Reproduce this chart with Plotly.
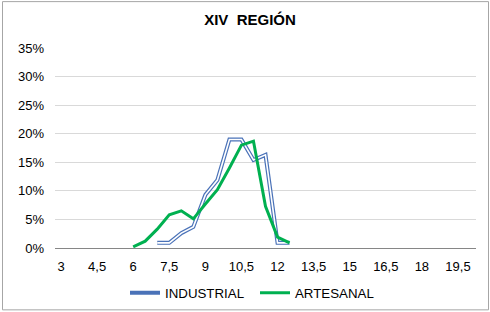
import plotly.graph_objects as go

categories = ["3", "3,5", "4", "4,5", "5", "5,5", "6", "6,5", "7", "7,5", "8", "8,5",
              "9", "9,5", "10", "10,5", "11", "11,5", "12", "12,5", "13", "13,5",
              "14", "14,5", "15", "15,5", "16", "16,5", "17", "17,5", "18", "18,5",
              "19", "19,5", "20"]

industrial = [None, None, None, None, None, None, None, None, 0.009, 0.009, 0.026, 0.037,
              0.093, 0.119, 0.190, 0.190, 0.154, 0.163, 0.009, 0.009, None, None,
              None, None, None, None, None, None, None, None, None, None,
              None, None, None]

artesanal = [None, None, None, None, None, None, 0.002, 0.012, 0.033, 0.058, 0.065, 0.051,
             0.077, 0.102, 0.140, 0.180, 0.187, 0.073, 0.019, 0.009, None, None,
             None, None, None, None, None, None, None, None, None, None,
             None, None, None]

tick_labels = ["3", "4,5", "6", "7,5", "9", "10,5", "12", "13,5", "15", "16,5", "18", "19,5"]
y_ticks = [0, 0.05, 0.10, 0.15, 0.20, 0.25, 0.30, 0.35]

FONT = "Liberation Sans, Arial, sans-serif"
W, H = 490, 312
L, R, T, B = 55, 14, 48, 63.5
PW, PH = W - L - R, H - T - B

def px_x(x):
    return (x - L) / PW

def px_y(y):
    return (H - B - y) / PH

fig = go.Figure()
fig.add_trace(go.Scatter(x=categories, y=industrial, mode="lines", name="INDUSTRIAL",
                         line=dict(color="#4A72B8", width=4), legendgroup="ind"))
fig.add_trace(go.Scatter(x=categories, y=industrial, mode="lines", name="INDUSTRIAL",
                         line=dict(color="white", width=1.6), legendgroup="ind",
                         showlegend=False, hoverinfo="skip"))
fig.add_trace(go.Scatter(x=categories, y=artesanal, mode="lines", name="ARTESANAL",
                         line=dict(color="#00B050", width=3)))

fig.update_layout(
    width=W, height=H,
    margin=dict(l=L, r=R, t=T, b=B, autoexpand=False),
    paper_bgcolor="white", plot_bgcolor="white",
    font=dict(family=FONT, size=13, color="#000000"),
    title=dict(text="<b>XIV  REGIÓN</b>", x=250 / W, xref="container", xanchor="center",
               y=1 - 20 / H, yanchor="middle",
               font=dict(family=FONT, size=15, color="#000000")),
    showlegend=True,
    legend=dict(orientation="h", xref="container", yref="container",
                x=255 / W, xanchor="center", y=1 - 293 / H, yanchor="middle",
                font=dict(family=FONT, size=13.3), itemwidth=30, tracegroupgap=0,
                entrywidth=85, entrywidthmode="pixels",
                bgcolor="rgba(0,0,0,0)"),
    xaxis=dict(type="category", categoryorder="array", categoryarray=categories,
               range=[-0.5, 34.5], tickmode="array", tickvals=categories[::3],
               ticktext=tick_labels, showgrid=False, showline=True, linecolor="#868686",
               linewidth=1, ticks="", ticklabelstandoff=6, automargin=False,
               tickfont=dict(family=FONT, size=13), zeroline=False),
    yaxis=dict(range=[0, 0.35], tickmode="array", tickvals=y_ticks, tickformat=".0%",
               showgrid=True, gridcolor="#D9D9D9", gridwidth=1, zeroline=False,
               showline=False, ticks="", ticklabelstandoff=10, automargin=False,
               tickfont=dict(family=FONT, size=13)),
    shapes=[dict(type="rect", xref="paper", yref="paper", x0=px_x(2.5), x1=px_x(488.5),
                 y0=px_y(310.5), y1=px_y(1.5), line=dict(color="#A6A6A6", width=1))],
)

fig.write_html("out.html", config={"displayModeBar": False},
               post_script="document.body.style.margin='0';document.body.style.padding='0';")
